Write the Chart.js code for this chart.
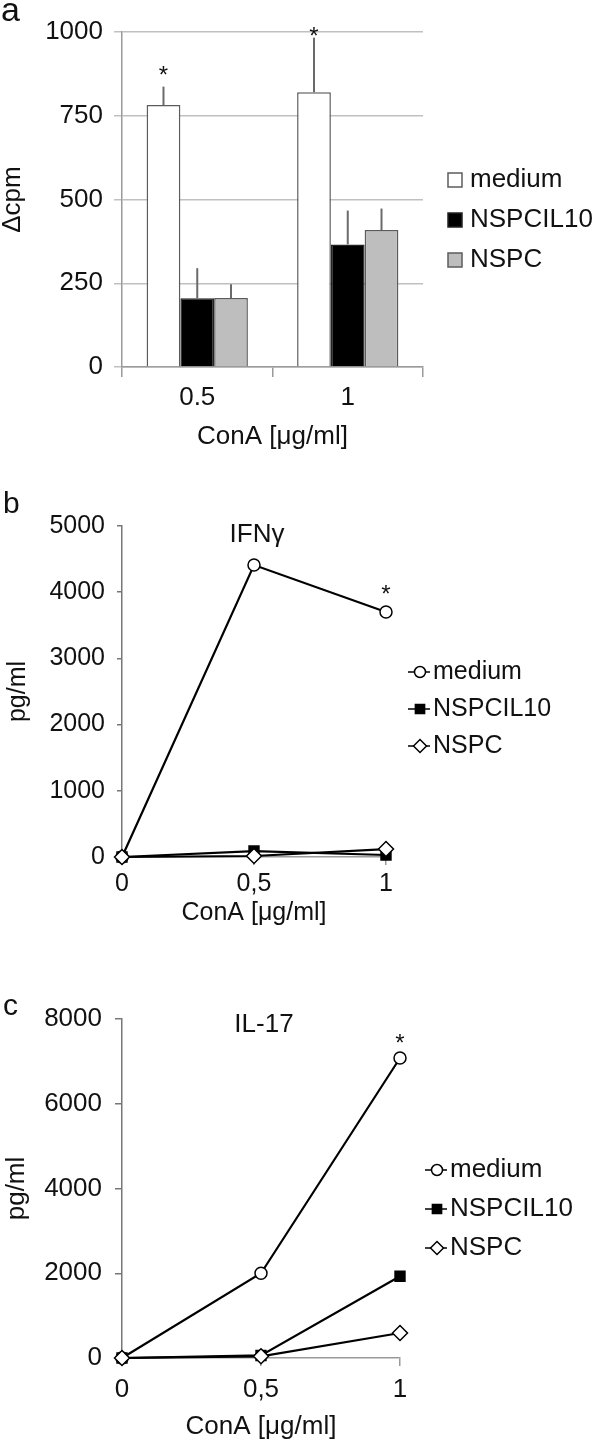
<!DOCTYPE html>
<html>
<head>
<meta charset="utf-8">
<script src="https://cdn.jsdelivr.net/npm/chart.js@4.4.1/dist/chart.umd.min.js"></script>
<style>
    html, body { margin: 0; padding: 0; background: #fff; }
    #wrap { position: relative; width: 600px; height: 1444px; overflow: hidden; }
    canvas { position: absolute; left: 0; }
</style>
</head>
<body>
<div id="wrap">
    <canvas id="chartA" width="600" height="460" style="top:0px"></canvas>
    <canvas id="chartB" width="600" height="490" style="top:460px"></canvas>
    <canvas id="chartC" width="600" height="494" style="top:950px"></canvas>
</div>
<script>
// panel a - proliferation (delta cpm)
const concA = ['0.5', '1'];
const cpmMedium = [782, 820];
const cpmNSPCIL10 = [205, 366];
const cpmNSPC = [206, 409];
const errMedium = [837, 983];
const errNSPCIL10 = [295, 467];
const errNSPC = [247, 473];
const starsA = [{ ds: 0, i: 0, at: 891 }, { ds: 0, i: 1, at: 1006 }];

// panels b and c - cytokines (pg/ml)
const concLine = [0, 0.5, 1];
const ifnMedium = [0, 4410, 3700];
const ifnNSPCIL10 = [0, 90, 30];
const ifnNSPC = [0, 15, 120];
const starsB = [{ ds: 0, i: 2, at: 4060 }];
const il17Medium = [0, 2000, 7080];
const il17NSPCIL10 = [0, 60, 1930];
const il17NSPC = [0, 40, 590];
const starsC = [{ ds: 0, i: 2, at: 7580 }];

const FONT = "'Liberation Sans', Arial, sans-serif";
const INK = '#111111';
Chart.defaults.font.family = FONT;
Chart.defaults.color = INK;

// error bars, asterisks, panel letters, inner titles and the side legend
const panelDecor = {
    id: 'panelDecor',
    afterDatasetsDraw(chart, args, opts) {
        const ctx = chart.ctx;
        const yScale = chart.scales.y;
        ctx.save();

        chart.data.datasets.forEach((ds, di) => {
            if (!ds.errTop) return;
            const meta = chart.getDatasetMeta(di);
            ctx.strokeStyle = '#6a6a6a';
            ctx.lineWidth = 2;
            meta.data.forEach((bar, i) => {
                ctx.beginPath();
                ctx.moveTo(bar.x, bar.y);
                ctx.lineTo(bar.x, yScale.getPixelForValue(ds.errTop[i]));
                ctx.stroke();
            });
        });

        ctx.fillStyle = INK;
        ctx.textAlign = 'center';
        ctx.textBaseline = 'alphabetic';
        ctx.font = '24px ' + FONT;
        (opts.stars || []).forEach(s => {
            const el = chart.getDatasetMeta(s.ds).data[s.i];
            const y = yScale.getPixelForValue(s.at);
            ctx.fillText('*', el.x, y + 0.59 * 24);
        });

        (opts.texts || []).forEach(t => {
            ctx.font = t.size + 'px ' + FONT;
            ctx.textAlign = t.align || 'left';
            ctx.textBaseline = t.base || 'alphabetic';
            ctx.fillText(t.text, t.x, t.y);
        });

        const lg = opts.legend;
        if (lg) {
            ctx.font = lg.size + 'px ' + FONT;
            ctx.textAlign = 'left';
            ctx.textBaseline = 'middle';
            chart.data.datasets.forEach((ds, di) => {
                const y = lg.y + di * lg.gap;
                if (lg.kind === 'box') {
                    ctx.fillStyle = ds.backgroundColor;
                    ctx.strokeStyle = ds.borderColor;
                    ctx.lineWidth = 1.5;
                    ctx.fillRect(lg.x, y - 7, 14, 14);
                    ctx.strokeRect(lg.x, y - 7, 14, 14);
                } else {
                    ctx.strokeStyle = '#000';
                    ctx.lineWidth = 1.5;
                    ctx.beginPath();
                    ctx.moveTo(lg.x, y);
                    ctx.lineTo(lg.x + 22, y);
                    ctx.stroke();
                    ctx.fillStyle = ds.pointBackgroundColor;
                    Chart.helpers.drawPoint(ctx, {
                        pointStyle: ds.pointStyle,
                        radius: ds.pointStyle === 'circle' ? 5.5 : 6.5,
                        borderWidth: 1.5,
                        rotation: 0
                    }, lg.x + 12, y);
                }
                ctx.fillStyle = INK;
                ctx.fillText(ds.label, lg.textX, y);
            });
        }
        ctx.restore();
    }
};

function tickFont(size) {
    return { size: size, lineHeight: 1 };
}

// plain numbers on the value axes, no thousands separator
const plainNumber = (v) => String(v);

// Panel a: bar chart with error bars
new Chart(document.getElementById('chartA'), {
    type: 'bar',
    data: {
        labels: concA,
        datasets: [
            { label: 'medium', data: cpmMedium, errTop: errMedium, backgroundColor: '#ffffff', borderColor: '#5c5c5c' },
            { label: 'NSPCIL10', data: cpmNSPCIL10, errTop: errNSPCIL10, backgroundColor: '#000000', borderColor: '#222222' },
            { label: 'NSPC', data: cpmNSPC, errTop: errNSPC, backgroundColor: '#bebebe', borderColor: '#5c5c5c' }
        ]
    },
    options: {
        responsive: false,
        animation: false,
        layout: { padding: { left: 0, top: 32, right: 177, bottom: 8 } },
        datasets: {
            bar: { categoryPercentage: 0.673, barPercentage: 1, borderWidth: 1.5 }
        },
        plugins: {
            legend: { display: false },
            tooltip: { enabled: false },
            panelDecor: {
                stars: starsA,
                texts: [{ text: 'a', x: 1, y: 21, size: 34 }],
                legend: { kind: 'box', x: 448, y: 180, gap: 40, textX: 470, size: 26 }
            }
        },
        scales: {
            x: {
                grid: { drawOnChartArea: false, offset: true, color: '#9a9a9a', lineWidth: 1.5, tickLength: 10 },
                border: { color: '#9a9a9a', width: 1.5 },
                ticks: { font: tickFont(26), padding: 8 },
                title: { display: true, text: 'ConA [μg/ml]', font: tickFont(26), padding: { top: 0, bottom: 2 } },
                afterFit: (s) => { s.height = 85; }
            },
            y: {
                min: 0,
                max: 1000,
                ticks: { stepSize: 250, font: tickFont(26), padding: 11, callback: plainNumber },
                grid: { color: '#c0c0c0', lineWidth: 1.5, tickLength: 8 },
                border: { color: '#9a9a9a', width: 1.5 },
                title: { display: true, text: 'Δcpm', font: tickFont(26), padding: { top: 0, bottom: 0 } },
                afterFit: (s) => { s.width = 122; }
            }
        }
    },
    plugins: [panelDecor]
});

function lineSet(label, ys, style, fill, radius, order) {
    return {
        label: label,
        data: concLine.map((x, i) => ({ x: x, y: ys[i] })),
        borderColor: '#000000',
        borderWidth: 2.2,
        pointStyle: style,
        pointRadius: radius,
        pointBackgroundColor: fill,
        pointBorderColor: '#000000',
        pointBorderWidth: 1.5,
        order: order,
        clip: false,
        tension: 0
    };
}

function cytokineChart(id, sets, yMax, yStep, opt) {
    return new Chart(document.getElementById(id), {
        type: 'line',
        data: { datasets: sets },
        options: {
            responsive: false,
            animation: false,
            layout: { padding: opt.padding },
            plugins: {
                legend: { display: false },
                tooltip: { enabled: false },
                panelDecor: { stars: opt.stars, texts: opt.texts, legend: opt.legend }
            },
            scales: {
                x: {
                    type: 'linear',
                    min: 0,
                    max: 1,
                    ticks: {
                        stepSize: 0.5,
                        font: tickFont(opt.font),
                        padding: opt.xPad,
                        callback: (v) => String(v).replace('.', ',')
                    },
                    grid: { drawOnChartArea: false, color: '#9a9a9a', lineWidth: 1.5, tickLength: 8 },
                    border: { color: '#9a9a9a', width: 1.5 },
                    title: { display: true, text: 'ConA [μg/ml]', font: tickFont(opt.font), padding: { top: 0, bottom: 2 } },
                    afterFit: (s) => { s.height = opt.xHeight; }
                },
                y: {
                    min: 0,
                    max: yMax,
                    ticks: { stepSize: yStep, font: tickFont(opt.font), padding: opt.yPad, callback: plainNumber },
                    grid: { drawOnChartArea: false, color: '#777777', lineWidth: 1.5, tickLength: opt.yTick },
                    border: { color: '#777777', width: 1.5 },
                    title: { display: true, text: 'pg/ml', font: tickFont(opt.font), padding: { top: opt.yTitlePad, bottom: 0 } },
                    afterFit: (s) => { s.width = 122; }
                }
            }
        },
        plugins: [panelDecor]
    });
}

// Panel b: IFN gamma
cytokineChart('chartB', [
    lineSet('medium', ifnMedium, 'circle', '#ffffff', 6, 2),
    lineSet('NSPCIL10', ifnNSPCIL10, 'rect', '#000000', 7, 1),
    lineSet('NSPC', ifnNSPC, 'rectRot', '#ffffff', 7.5, 0)
], 5000, 1000, {
    padding: { left: 0, top: 66, right: 214, bottom: 22 },
    xHeight: 71, xPad: 7, yPad: 12, yTick: 5, yTitlePad: 6, font: 25,
    stars: starsB,
    texts: [
        { text: 'b', x: 3, y: 53, size: 30 },
        { text: 'IFNγ', x: 257, y: 75, size: 26, align: 'center', base: 'middle' }
    ],
    legend: { kind: 'line', x: 408, y: 212, gap: 37, textX: 433, size: 25 }
});

// Panel c: IL-17
cytokineChart('chartC', [
    lineSet('medium', il17Medium, 'circle', '#ffffff', 6, 2),
    lineSet('NSPCIL10', il17NSPCIL10, 'rect', '#000000', 7, 1),
    lineSet('NSPC', il17NSPC, 'rectRot', '#ffffff', 7.5, 0)
], 8000, 2000, {
    padding: { left: 0, top: 69, right: 200, bottom: 2 },
    xHeight: 84, xPad: 11, yPad: 13, yTick: 7, yTitlePad: 4, font: 26,
    stars: starsC,
    texts: [
        { text: 'c', x: 3, y: 65, size: 30 },
        { text: 'IL-17', x: 264, y: 75, size: 26, align: 'center', base: 'middle' }
    ],
    legend: { kind: 'line', x: 425, y: 220, gap: 39, textX: 450, size: 26 }
});
</script>
</body>
</html>
